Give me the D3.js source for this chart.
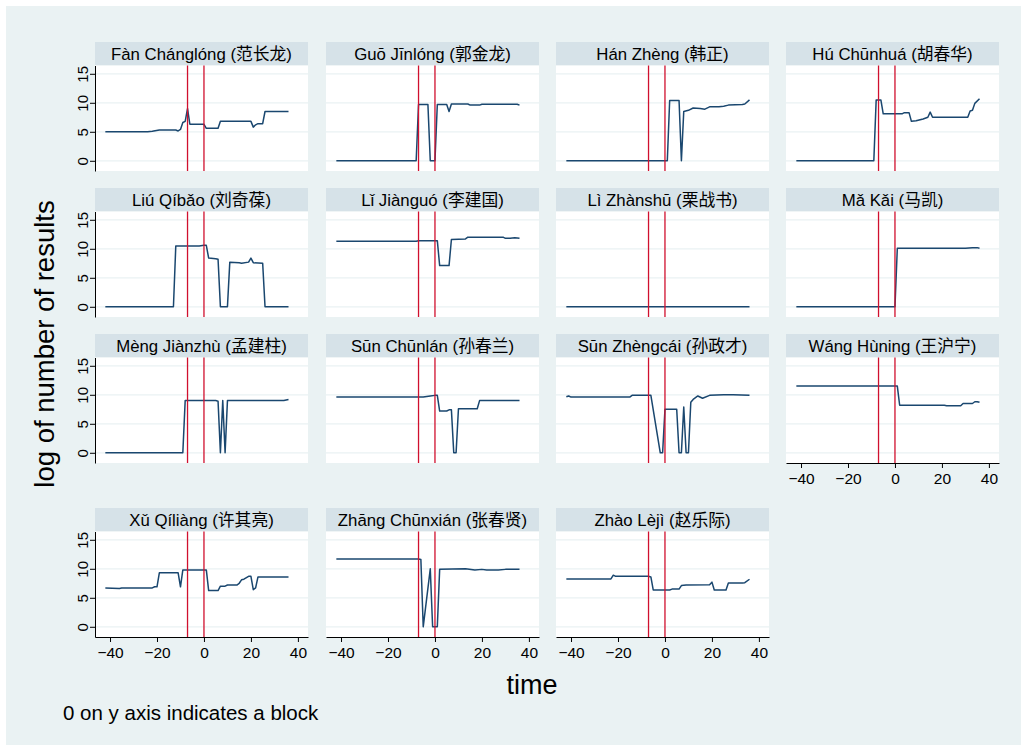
<!DOCTYPE html>
<html>
<head>
<meta charset="utf-8">
<script src="https://cdn.jsdelivr.net/npm/d3@7"></script>
<style>
  body { margin: 0; background: #fff; }
  svg { display: block; }
  text { font-family: "Liberation Sans", Arial, "Noto Sans CJK SC", sans-serif; fill: #000; }
</style>
</head>
<body>
<svg id="chart" width="1027" height="751"></svg>
<script>
// panel labels
const pinyin = ['Fàn Chánglóng', 'Guō Jīnlóng', 'Hán Zhèng', 'Hú Chūnhuá',
    'Liú Qíbǎo', 'Lǐ Jiànguó', 'Lì Zhànshū', 'Mǎ Kǎi',
    'Mèng Jiànzhù', 'Sūn Chūnlán', 'Sūn Zhèngcái', 'Wáng Hùning',
    'Xǔ Qíliàng', 'Zhāng Chūnxián', 'Zhào Lèjì'];
const hanzi = ['范长龙', '郭金龙', '韩正', '胡春华', '刘奇葆', '李建国', '栗战书', '马凯',
    '孟建柱', '孙春兰', '孙政才', '王沪宁', '许其亮', '张春贤', '赵乐际'];

const xTicks = [-40, -20, 0, 20, 40];
const yTicks = [0, 5, 10, 15];
const eventDays = [-7, 0];

// [time, log of number of results]
const fanChanglong = [[-42, 5.0], [-24, 5.0], [-22, 5.1], [-19, 5.3], [-12, 5.3], [-11, 5.15], [-10, 5.4],
    [-9, 6.6], [-8, 6.8], [-7, 9.0], [-6, 6.3], [0, 6.3], [1, 5.6], [6, 5.6], [7, 6.8], [20, 6.8],
    [21, 5.8], [22, 6.2], [23, 6.4], [25, 6.4], [26, 8.5], [36, 8.5]];
const guoJinlong = [[-42, 0], [-8, 0], [-7, 9.7], [-3, 9.7], [-2, 0], [0, 0], [1, 9.7], [5, 9.7],
    [6, 8.5], [7, 9.8], [14, 9.8], [15, 9.6], [19, 9.6], [20, 9.75], [35, 9.75], [36, 9.6]];
const hanZheng = [[-42, 0], [1, 0], [2, 10.4], [6, 10.4], [7, 0], [8, 8.5], [10, 8.7], [12, 9.1],
    [15, 9.0], [17, 8.9], [19, 9.3], [23, 9.3], [25, 9.4], [27, 9.6], [33, 9.7], [34, 9.8], [36, 10.5]];
const huChunhua = [[-42, 0], [-9, 0], [-8, 10.5], [-6, 10.5], [-5, 8.1], [3, 8.1], [4, 8.3], [6, 8.3],
    [7, 6.8], [9, 6.9], [12, 7.2], [14, 7.5], [15, 8.4], [16, 7.5], [31, 7.5], [32, 8.6], [33, 8.7],
    [34, 9.9], [36, 10.7]];
const liuQibao = [[-42, 0], [-13, 0], [-12, 10.5], [-2, 10.5], [0, 10.6], [1, 10.6], [2, 8.4], [5, 8.3],
    [6, 8.2], [7, 0], [10, 0], [11, 7.7], [15, 7.6], [16, 7.5], [19, 7.7], [20, 8.4], [21, 7.6],
    [25, 7.5], [26, 0], [36, 0]];
const liJianguo = [[-42, 11.3], [-8, 11.3], [-7, 11.4], [1, 11.4], [2, 7.1], [6, 7.1], [7, 11.6],
    [13, 11.7], [14, 12.0], [29, 12.0], [30, 11.8], [32, 11.8], [34, 11.9], [36, 11.8]];
const liZhanshu = [[-42, 0], [36, 0]];
const maKai = [[-42, 0], [0, 0], [1, 10.1], [30, 10.1], [33, 10.2], [35, 10.2], [36, 10.1]];
const mengJianzhu = [[-42, 0], [-9, 0], [-8, 9.0], [5, 9.0], [6, 8.9], [7, 0], [8, 9.0], [9, 0],
    [10, 9.0], [34, 9.0], [36, 9.2]];
const sunChunlan = [[-42, 9.6], [-5, 9.6], [-2, 9.8], [0, 9.9], [1, 9.9], [2, 7.2], [5, 7.2], [6, 7.4],
    [7, 7.4], [8, 0], [9, 0], [10, 7.6], [18, 7.6], [19, 9.0], [36, 9.0]];
const sunZhengcai = [[-42, 9.65], [-41, 9.8], [-40, 9.6], [-15, 9.6], [-14, 9.9], [-6, 9.9], [-2, 0],
    [-1, 0], [0, 7.5], [5, 7.5], [6, 0], [7, 0], [8, 7.9], [9, 0], [10, 0], [11, 8.7], [12, 9.2],
    [14, 9.8], [16, 9.4], [19, 9.9], [25, 10.0], [29, 10.0], [36, 9.9]];
const wangHuning = [[-42, 11.5], [1, 11.5], [2, 8.2], [21, 8.2], [22, 8.1], [28, 8.1], [29, 8.5],
    [33, 8.5], [34, 8.8], [35, 8.8], [36, 8.7]];
const xuQiliang = [[-42, 6.7], [-36, 6.6], [-35, 6.7], [-22, 6.7], [-21, 6.9], [-20, 6.9], [-19, 9.3],
    [-11, 9.3], [-10, 6.9], [-9, 9.8], [1, 9.8], [2, 6.25], [6, 6.25], [7, 7.0], [9, 7.0], [10, 7.2],
    [14, 7.2], [15, 7.5], [16, 8.1], [17, 8.2], [19, 8.7], [20, 8.7], [21, 6.4], [22, 6.7], [23, 8.6],
    [36, 8.6]];
const zhangChunxian = [[-42, 11.7], [-7, 11.7], [-6, 11.6], [-5, 0], [-2, 10.0], [-1, 0], [0, 0], [1, 0],
    [2, 9.9], [13, 10.0], [17, 9.8], [20, 9.9], [22, 9.8], [27, 9.8], [30, 9.9], [36, 9.9]];
const zhaoLeji = [[-42, 8.25], [-23, 8.25], [-22, 8.9], [-21, 8.7], [-7, 8.7], [-6, 8.6], [-5, 6.35],
    [2, 6.35], [3, 6.5], [6, 6.5], [7, 7.1], [9, 7.2], [19, 7.25], [20, 7.7], [21, 6.35], [26, 6.35],
    [27, 7.55], [33, 7.55], [34, 7.6], [36, 8.2]];

const series = [fanChanglong, guoJinlong, hanZheng, huChunhua, liuQibao, liJianguo, liZhanshu, maKai,
    mengJianzhu, sunChunlan, sunZhengcai, wangHuning, xuQiliang, zhangChunxian, zhaoLeji];

const BG = '#eaf2f3';
const STRIP = '#d6e2e8';
const NAVY = '#1a476f';
const RED = '#d0102e';

const colLeft = [95, 326, 556, 786];
const rowTop = [42, 188, 334, 508];
const panelW = 213;
const stripH = 23.5;
const plotH = 105.5;

const x = d3.scaleLinear().domain([-46.4, 44.3]).range([0, panelW]);
const y = d3.scaleLinear().domain([-1.76, 16.43]).range([plotH, 0]);
const line = d3.line().x(d => x(d[0])).y(d => y(d[1]));

const svg = d3.select('#chart');
svg.append('rect')
    .attr('x', 6).attr('y', 6)
    .attr('width', 1015).attr('height', 739)
    .attr('fill', BG);

pinyin.forEach((name, i) => {
    const row = Math.floor(i / 4);
    const col = i % 4;
    const g = svg.append('g').attr('transform', `translate(${colLeft[col]},${rowTop[row]})`);

    g.append('rect')
        .attr('width', panelW).attr('height', stripH)
        .attr('fill', STRIP);
    g.append('text')
        .attr('x', panelW / 2).attr('y', stripH / 2)
        .attr('dy', '0.36em')
        .attr('text-anchor', 'middle')
        .style('font-size', '16.8px')
        .text(`${name} (${hanzi[i]})`);

    const p = g.append('g').attr('transform', `translate(0,${stripH})`);
    p.append('rect')
        .attr('width', panelW).attr('height', plotH)
        .attr('fill', '#fff');

    p.selectAll('line.grid')
        .data(yTicks)
        .join('line')
        .attr('class', 'grid')
        .attr('x1', 0).attr('x2', panelW)
        .attr('y1', d => y(d)).attr('y2', d => y(d))
        .attr('stroke', BG)
        .attr('stroke-width', 1.3);

    p.append('path')
        .datum(series[i])
        .attr('d', line)
        .attr('fill', 'none')
        .attr('stroke', NAVY)
        .attr('stroke-width', 1.5)
        .attr('stroke-linejoin', 'round');

    p.selectAll('line.event')
        .data(eventDays)
        .join('line')
        .attr('class', 'event')
        .attr('x1', d => x(d)).attr('x2', d => x(d))
        .attr('y1', 0).attr('y2', plotH)
        .attr('stroke', RED)
        .attr('stroke-width', 1.3);

    if (col === 0) {
        const ya = p.append('g')
            .call(d3.axisLeft(y).tickValues(yTicks).tickSize(5).tickSizeOuter(0));
        ya.selectAll('text')
            .attr('transform', 'rotate(-90)')
            .attr('x', 0).attr('y', -7).attr('dy', 0)
            .attr('text-anchor', 'middle')
            .style('font-size', '15px');
    }

    if (i >= 11) {
        const xa = p.append('g')
            .attr('transform', `translate(0,${plotH})`)
            .call(d3.axisBottom(x).tickValues(xTicks).tickSize(5).tickSizeOuter(0));
        xa.selectAll('text')
            .attr('y', 10)
            .style('font-size', '15.5px');
    }
});

svg.selectAll('.domain, .tick line').attr('stroke', '#000');
svg.selectAll('.tick text').attr('fill', '#000').style('font-family', '"Liberation Sans", Arial, sans-serif');

svg.append('text')
    .attr('transform', 'translate(54,344) rotate(-90)')
    .attr('text-anchor', 'middle')
    .style('font-size', '27.5px')
    .text('log of number of results');

svg.append('text')
    .attr('x', 532).attr('y', 694)
    .attr('text-anchor', 'middle')
    .style('font-size', '27px')
    .text('time');

svg.append('text')
    .attr('x', 63).attr('y', 720)
    .style('font-size', '20.5px')
    .text('0 on y axis indicates a block');
</script>
</body>
</html>
